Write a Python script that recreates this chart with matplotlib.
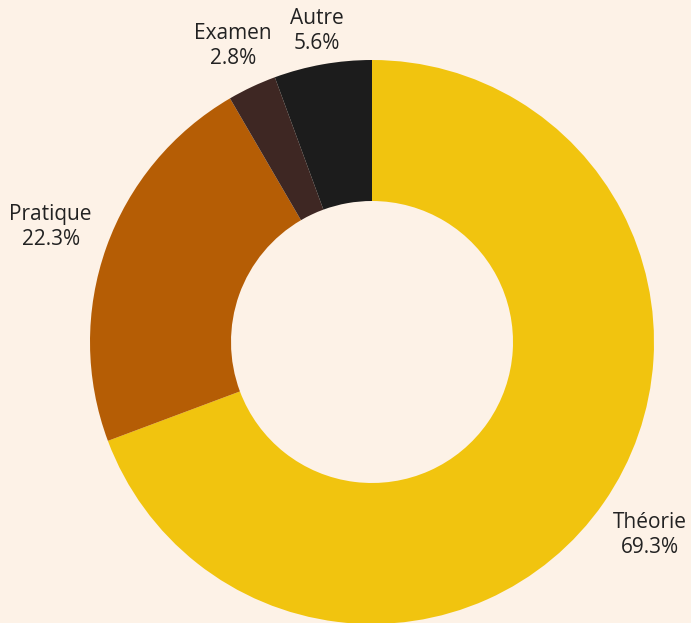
import numpy as np
import matplotlib
matplotlib.use("Agg")
import matplotlib.pyplot as plt

# data
labels = ["Théorie", "Pratique", "Examen", "Autre"]
values = [69.3, 22.3, 2.8, 5.6]
colors = ["#F1C40F", "#B55D05", "#3E2723", "#1C1C1C"]
label_dist = [1.2, 1.21, 1.16, 1.12]

bg = "#FDF2E7"
plt.rcParams['font.family'] = ['Open Sans', 'DejaVu Sans']

fig = plt.figure(figsize=(6.91, 6.23), dpi=100, facecolor=bg)
W, H = 691, 623
cx, cy, r = 372, 342, 282
ax = fig.add_axes([(cx - r) / W, (H - cy - r) / H, 2 * r / W, 2 * r / H])
ax.set_facecolor(bg)

wedges, _ = ax.pie(values, colors=colors, startangle=90, counterclock=False,
                   radius=1.0, wedgeprops=dict(width=0.5, linewidth=0))

for w, lab, v, d in zip(wedges, labels, values, label_dist):
    ang = np.deg2rad((w.theta1 + w.theta2) / 2)
    ax.text(d * np.cos(ang), d * np.sin(ang), "{}\n{:.1f}%".format(lab, v),
            ha="center", va="center", fontsize=15,
            color="#222222", linespacing=1.25)

ax.set_xlim(-1, 1)
ax.set_ylim(-1, 1)
ax.set_aspect("equal")
ax.axis("off")

plt.savefig("out.png", dpi=100, facecolor=bg)
